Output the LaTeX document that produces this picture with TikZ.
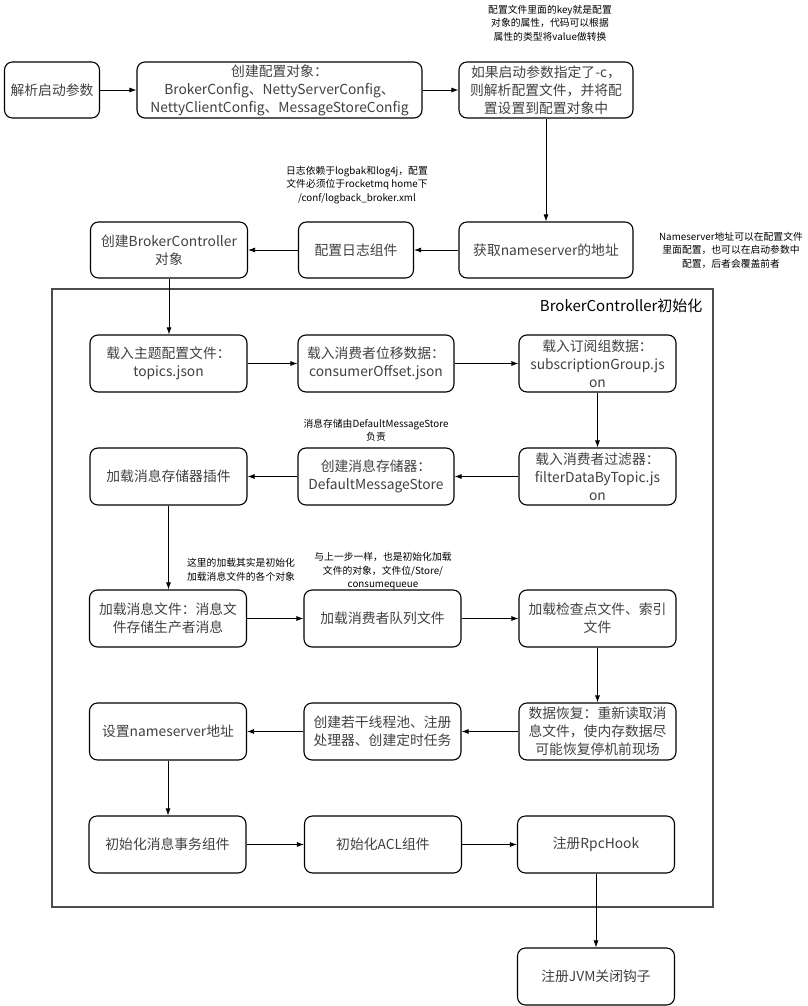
\documentclass[tikz,border=0pt]{standalone}
\usepackage{fontspec}
\setmainfont{Noto Sans CJK SC}
\usetikzlibrary{arrows.meta,positioning}
\tikzset{
  stepbox/.style={draw, rounded corners=8pt, line width=1.1pt, align=center,
    text=black!75, font=\fontsize{13.8}{18}\selectfont, inner sep=2pt,
    minimum width=157pt, minimum height=57pt},
  note/.style={align=center, font=\fontsize{9.8}{13.5}\selectfont},
  flow/.style={-{Latex[length=7pt,width=5pt]}, line width=0.8pt}
}
\begin{document}
\begin{tikzpicture}[x=1pt,y=-1pt]
\useasboundingbox (0,0) rectangle (807,1006);
% outer frame of the init stage
\draw[line width=1.3pt, black!70] (52,289) rectangle (713,907);
\node[anchor=east, font=\fontsize{15}{18}\selectfont] (inittitle) at (706,306) {BrokerController初始化};

% first row
\node[stepbox, minimum width=95pt, minimum height=56pt] (parse) at (52,90) {解析启动参数};
\node[stepbox, minimum width=285pt, minimum height=56pt] (create) at (279.5,90) {创建配置对象：\\BrokerConfig、NettyServerConfig、\\NettyClientConfig、MessageStoreConfig};
\node[stepbox, minimum width=174pt, minimum height=56pt] (cfgfile) at (546,90) {如果启动参数指定了-c，\\则解析配置文件，并将配\\置设置到配置对象中};

% second row
\node[stepbox, minimum width=174pt, minimum height=56pt] (namesrv) at (546,250) {获取nameserver的地址};
\node[stepbox, minimum width=115pt, minimum height=56pt] (logcfg) at (356,250) {配置日志组件};
\node[stepbox, minimum height=56pt] (bctrl) at (169,250) {创建BrokerController\\对象};

% inside the frame
\node[stepbox] (topics) at (168.5,363.5) {载入主题配置文件：\\topics.json};
\node[stepbox, minimum width=156pt] (offset) at (376,363.5) {载入消费者位移数据：\\consumerOffset.json};
\node[stepbox] (subgrp) at (597.5,363.5) {载入订阅组数据：\\subscriptionGroup.js\\on};

\node[stepbox] (plugin) at (168.5,476.5) {加载消息存储器插件};
\node[stepbox, minimum width=156pt] (store) at (376,476.5) {创建消息存储器：\\DefaultMessageStore};
\node[stepbox] (filter) at (597.5,476.5) {载入消费者过滤器：\\filterDataByTopic.js\\on};

\node[stepbox] (msgfile) at (168,618.5) {加载消息文件：消息文\\件存储生产者消息};
\node[stepbox] (cqueue) at (382.5,618.5) {加载消费者队列文件};
\node[stepbox] (ckpt) at (597.5,618.5) {加载检查点文件、索引\\文件};

\node[stepbox] (setns) at (168,731.5) {设置nameserver地址};
\node[stepbox] (threads) at (382.5,731.5) {创建若干线程池、注册\\处理器、创建定时任务};
\node[stepbox] (recover) at (597.5,731.5) {数据恢复：重新读取消\\息文件，使内存数据尽\\可能恢复停机前现场};

\node[stepbox] (trans) at (167.5,844.5) {初始化消息事务组件};
\node[stepbox] (acl) at (383,844.5) {初始化ACL组件};
\node[stepbox] (rpchook) at (596,844.5) {注册RpcHook};

\node[stepbox] (jvmhook) at (596,976.5) {注册JVM关闭钩子};

% notes
\node[note] (cfgnote) at (550,23) {配置文件里面的key就是配置\\对象的属性，代码可以根据\\属性的类型将value做转换};
\node[note] (lognote) at (357,185) {日志依赖于logbak和log4j，配置\\文件必须位于rocketmq home下\\/conf/logback\_broker.xml};
\node[note] (nsnote) at (731,250) {Nameserver地址可以在配置文件\\里面配置，也可以在启动参数中\\配置，后者会覆盖前者};
\node[note] (storenote) at (376,430) {消息存储由DefaultMessageStore\\负责};
\node[note] (loadnote) at (241,570) {这里的加载其实是初始化\\加载消息文件的各个对象};
\node[note] (cqnote) at (383,571) {与上一步一样，也是初始化加载\\文件的对象，文件位/Store/\\consumequeue};

% connectors
\draw[flow] (parse) -- (create);
\draw[flow] (create) -- (cfgfile);
\draw[flow] (cfgfile) -- (namesrv);
\draw[flow] (namesrv) -- (logcfg);
\draw[flow] (logcfg) -- (bctrl);
\draw[flow] (bctrl.south) -- (bctrl.south |- topics.north);
\draw[flow] (topics) -- (offset);
\draw[flow] (offset) -- (subgrp);
\draw[flow] (subgrp) -- (filter);
\draw[flow] (filter) -- (store);
\draw[flow] (store) -- (plugin);
\draw[flow] (plugin.south) -- (plugin.south |- msgfile.north);
\draw[flow] (msgfile) -- (cqueue);
\draw[flow] (cqueue) -- (ckpt);
\draw[flow] (ckpt) -- (recover);
\draw[flow] (recover) -- (threads);
\draw[flow] (threads) -- (setns);
\draw[flow] (setns.south) -- (setns.south |- trans.north);
\draw[flow] (trans) -- (acl);
\draw[flow] (acl) -- (rpchook);
\draw[flow] (rpchook) -- (jvmhook);
\end{tikzpicture}
\end{document}
